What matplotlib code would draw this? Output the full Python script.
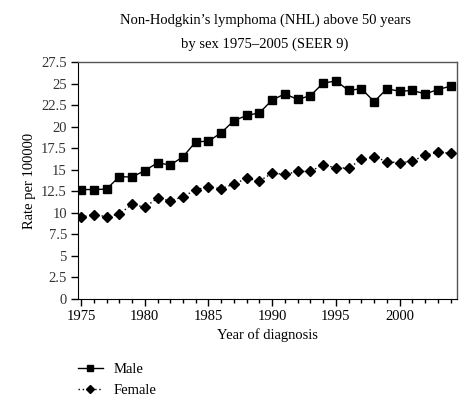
import matplotlib
matplotlib.use("Agg")
import matplotlib.pyplot as plt
from matplotlib.ticker import MultipleLocator
from matplotlib.lines import Line2D

years = list(range(1975, 2005))
male = [12.7, 12.7, 12.75, 14.2, 14.15, 14.9, 15.8, 15.55, 16.5, 18.25,
        18.3, 19.3, 20.7, 21.3, 21.6, 23.1, 23.8, 23.15, 23.6, 25.05,
        25.3, 24.2, 24.4, 22.9, 24.4, 24.1, 24.2, 23.8, 24.3, 24.7]
female = [9.5, 9.8, 9.55, 9.85, 11.0, 10.65, 11.7, 11.4, 11.85, 12.7,
          13.0, 12.8, 13.35, 14.0, 13.7, 14.6, 14.45, 14.8, 14.8, 15.6,
          15.2, 15.2, 16.2, 16.5, 15.95, 15.8, 16.0, 16.7, 17.05, 16.9]
yticks = [0, 2.5, 5, 7.5, 10, 12.5, 15, 17.5, 20, 22.5, 25, 27.5]
xticks = [1975, 1980, 1985, 1990, 1995, 2000]

plt.rcParams['font.family'] = ['Liberation Serif', 'DejaVu Serif']

fig = plt.figure(figsize=(4.67, 4.03), dpi=100)
ax = fig.add_axes([78/467, 1-299/403, (457-78)/467, (299-62)/403])

ax.plot(years, male, color='black', lw=1.0, marker='s', markersize=5.5, label='Male')
ax.plot(years, female, color='black', lw=1.0, ls=(0, (1, 2)), marker='D', markersize=5.5, label='Female')

ax.set_xlim(1974.76, 2004.5)
ax.set_ylim(0, 27.5)
ax.set_yticks(yticks)
ax.set_yticklabels([f"{t:g}" for t in yticks])
ax.set_xticks(xticks)
ax.xaxis.set_minor_locator(MultipleLocator(1))
ax.tick_params(axis='both', which='major', direction='out', length=5, width=1, labelsize=10.5, colors='black', pad=3)
ax.tick_params(axis='y', labelcolor='#333333')
ax.tick_params(axis='x', which='minor', direction='out', length=3, width=1)
for s in ['top', 'right']:
    ax.spines[s].set_color('#555555')
    ax.spines[s].set_linewidth(1.0)

ax.set_ylabel('Rate per 100000', fontsize=10.5)
ax.set_xlabel('Year of diagnosis', fontsize=10.5, labelpad=4)
fig.text(265/467, 1-20/403, "Non-Hodgkin’s lymphoma (NHL) above 50 years", ha='center', va='center', fontsize=10.5)
fig.text(265/467, 1-44/403, "by sex 1975–2005 (SEER 9)", ha='center', va='center', fontsize=10.5)

handles = [Line2D([], [], color='black', lw=1.0, marker='s', markersize=4),
           Line2D([], [], color='black', lw=1.0, ls=(0, (1, 2)), marker='D', markersize=4.5)]
fig.legend(handles=handles, labels=['Male', 'Female'], loc='upper left',
           bbox_to_anchor=(78/467, 1-363/403), frameon=False, fontsize=10.5,
           handlelength=1.7, labelspacing=0.5, handletextpad=0.75, borderaxespad=0, borderpad=0)

fig.savefig('out.png', dpi=100)
